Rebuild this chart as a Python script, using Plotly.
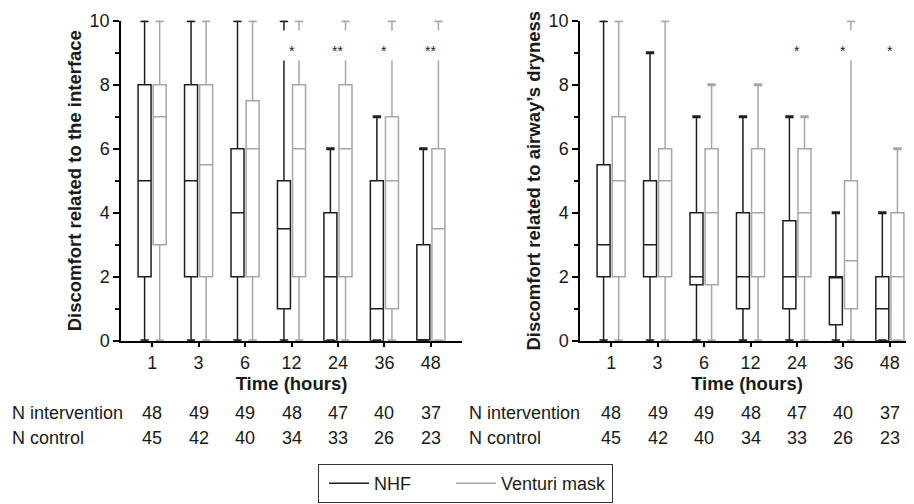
import plotly.graph_objects as go
from plotly.subplots import make_subplots

times = ["1", "3", "6", "12", "24", "36", "48"]

# Discomfort related to the interface
int_nhf_min = [0, 0, 0, 0, 0, 0, 0]
int_nhf_q1 = [2, 2, 2, 1, 0, 0, 0]
int_nhf_med = [5, 5, 4, 3.5, 2, 1, 0]
int_nhf_q3 = [8, 8, 6, 5, 4, 5, 3]
int_nhf_max = [10, 10, 10, 10, 6, 7, 6]

int_ven_min = [0, 0, 0, 0, 0, 0, 0]
int_ven_q1 = [3, 2, 2, 2, 2, 1, 0]
int_ven_med = [7, 5.5, 6, 6, 6, 5, 3.5]
int_ven_q3 = [8, 8, 7.5, 8, 8, 7, 6]
int_ven_max = [10, 10, 10, 10, 10, 10, 10]

# Discomfort related to airway's dryness
dry_nhf_min = [0, 0, 0, 0, 0, 0, 0]
dry_nhf_q1 = [2, 2, 1.75, 1, 1, 0.5, 0]
dry_nhf_med = [3, 3, 2, 2, 2, 2, 1]
dry_nhf_q3 = [5.5, 5, 4, 4, 3.75, 2, 2]
dry_nhf_max = [10, 9, 7, 7, 7, 4, 4]

dry_ven_min = [0, 0, 0, 0, 0, 0, 0]
dry_ven_q1 = [2, 2, 1.75, 2, 2, 1, 0]
dry_ven_med = [5, 5, 4, 4, 4, 2.5, 2]
dry_ven_q3 = [7, 6, 6, 6, 6, 5, 4]
dry_ven_max = [10, 10, 8, 8, 7, 10, 6]

int_signif = ["", "", "", "*", "**", "*", "**"]
dry_signif = ["", "", "", "", "*", "*", "*"]

n_intervention = [48, 49, 49, 48, 47, 40, 37]
n_control = [45, 42, 40, 34, 33, 26, 23]

NHF_COLOR = "#1e1e1e"
VEN_COLOR = "#a6a6a6"
TXT = "#1a1a1a"
FONT = "Liberation Sans, Arial, sans-serif"
FS = 18
FSB = 18.5

# page body has an 8px margin: size the figure to the remaining viewport
OFF = 8
W, H = 914 - OFF, 504 - OFF


def px(x):
    return (x - OFF) / W


def py(y):
    return 1 - (y - OFF) / H


fig = make_subplots(rows=1, cols=2)


def add_group(col, q1, med, q3, lo, hi, color, name, og):
    fig.add_trace(go.Box(
        x=times, q1=q1, median=med, q3=q3, lowerfence=lo, upperfence=hi,
        name=name, offsetgroup=og, line=dict(color=color, width=1.5),
        fillcolor="rgba(255,255,255,0)", whiskerwidth=0.45, boxpoints=False,
        showlegend=False, hoverinfo="skip"), row=1, col=col)
    fig.add_trace(go.Scatter(
        x=times + times, y=lo + hi, mode="markers", offsetgroup=og,
        marker=dict(symbol="line-ew", size=6, line=dict(color=color, width=3)),
        showlegend=False, hoverinfo="skip"), row=1, col=col)


add_group(1, int_nhf_q1, int_nhf_med, int_nhf_q3, int_nhf_min, int_nhf_max, NHF_COLOR, "NHF", "a")
add_group(1, int_ven_q1, int_ven_med, int_ven_q3, int_ven_min, int_ven_max, VEN_COLOR, "Venturi mask", "b")
add_group(2, dry_nhf_q1, dry_nhf_med, dry_nhf_q3, dry_nhf_min, dry_nhf_max, NHF_COLOR, "NHF", "a")
add_group(2, dry_ven_q1, dry_ven_med, dry_ven_q3, dry_ven_min, dry_ven_max, VEN_COLOR, "Venturi mask", "b")

# legend entries
fig.add_trace(go.Scatter(x=[None], y=[None], mode="lines", name="NHF" + "\u00a0" * 6,
                         line=dict(color=NHF_COLOR, width=1.5)), row=1, col=1)
fig.add_trace(go.Scatter(x=[None], y=[None], mode="lines", name="Venturi mask",
                         line=dict(color=VEN_COLOR, width=1.5)), row=1, col=1)

y_dom = [py(340.7), py(20.7)]
px_per_cat = (462 - 121) / 7.34
x2_end = -0.67 + (914 - 580) / px_per_cat

xaxis_common = dict(
    type="category", showline=True, linecolor="black", linewidth=1.5,
    ticks="outside", ticklen=5, tickwidth=1.5, tickcolor="black",
    showgrid=False, zeroline=False, automargin=False,
    tickfont=dict(family=FONT, size=FS, color=TXT),
    title=dict(text="<b>Time (hours)</b>", font=dict(family=FONT, size=FSB, color=TXT), standoff=4),
)
yaxis_common = dict(
    range=[0, 10], showline=True, linecolor="black", linewidth=1.5,
    ticks="outside", ticklen=6, tickwidth=1.5, tickcolor="black",
    tickvals=[0, 2, 4, 6, 8, 10], showgrid=False, zeroline=False, automargin=False,
    minor=dict(tickvals=[1, 3, 5, 7, 9], ticks="outside", ticklen=4, tickwidth=1.5, tickcolor="black"),
    tickfont=dict(family=FONT, size=FS, color=TXT),
)

fig.update_layout(
    template="none",
    width=W, height=H, margin=dict(l=0, r=0, t=0, b=0, pad=0, autoexpand=False),
    paper_bgcolor="white", plot_bgcolor="white",
    boxmode="group", boxgap=0.35, boxgroupgap=0.14,
    scattermode="group", scattergap=0.35,
    font=dict(family=FONT, color=TXT),
    xaxis=dict(xaxis_common, domain=[px(121), px(462)], range=[-0.67, 6.67]),
    xaxis2=dict(xaxis_common, domain=[px(580), 1.0], range=[-0.67, x2_end]),
    yaxis=dict(yaxis_common, domain=y_dom,
               title=dict(text="<b>Discomfort related to the interface</b>",
                          font=dict(family=FONT, size=FSB, color=TXT), standoff=3)),
    yaxis2=dict(yaxis_common, domain=y_dom,
                title=dict(text="<b>Discomfort related to airway\u2019s dryness</b>",
                           font=dict(family=FONT, size=FSB, color=TXT), standoff=3)),
    legend=dict(orientation="h", x=px(318), xanchor="left", y=py(464), yanchor="top",
                bordercolor="#333", borderwidth=1, bgcolor="white", itemwidth=40,
                indentation=5,
                font=dict(family=FONT, size=FS, color=TXT)),
)

annotations = []
for xr, signif in (("x", int_signif), ("x2", dry_signif)):
    yr = "y" if xr == "x" else "y2"
    for i, s in enumerate(signif):
        if s:
            # white break in the whiskers behind the significance mark
            annotations.append(dict(
                xref=xr, yref=yr, x=i, y=9.21, text="\u00a0",
                showarrow=False, bgcolor="white", width=24, height=27,
                font=dict(family=FONT, size=10, color="white")))
            annotations.append(dict(
                xref=xr, yref=yr, x=i, y=9.19, text=s, yshift=-4,
                showarrow=False, font=dict(family=FONT, size=14, color="#222")))

row_y = [py(413), py(438)]
for xr, lab_x in (("x", px(10)), ("x2", px(467))):
    annotations.append(dict(xref="paper", yref="paper", x=lab_x, y=row_y[0], xanchor="left",
                            yanchor="middle", text="N intervention", showarrow=False,
                            font=dict(family=FONT, size=FS, color=TXT)))
    annotations.append(dict(xref="paper", yref="paper", x=lab_x, y=row_y[1], xanchor="left",
                            yanchor="middle", text="N control", showarrow=False,
                            font=dict(family=FONT, size=FS, color=TXT)))
    for i in range(len(times)):
        annotations.append(dict(xref=xr, yref="paper", x=i, y=row_y[0], text=str(n_intervention[i]),
                                xanchor="center", yanchor="middle", showarrow=False,
                                font=dict(family=FONT, size=FS, color=TXT)))
        annotations.append(dict(xref=xr, yref="paper", x=i, y=row_y[1], text=str(n_control[i]),
                                xanchor="center", yanchor="middle", showarrow=False,
                                font=dict(family=FONT, size=FS, color=TXT)))

fig.update_layout(annotations=annotations)

fig.write_html("out.html")
